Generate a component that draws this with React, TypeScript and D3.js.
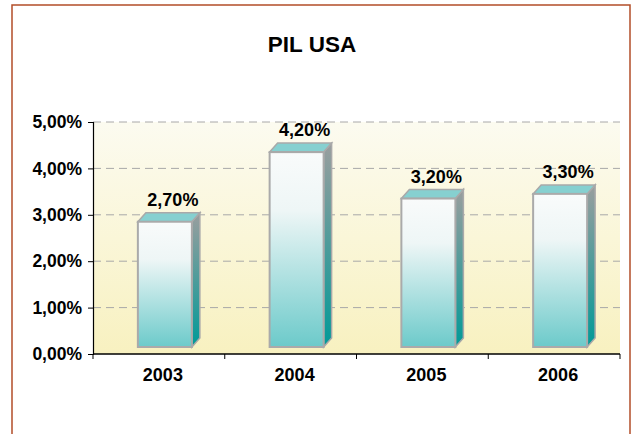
import React, { useEffect, useRef } from 'react';
import * as d3 from 'd3';

const title = 'PIL USA';
const years = ['2003', '2004', '2005', '2006'];
const growth = [2.7, 4.2, 3.2, 3.3];
const yTicks = [0, 1, 2, 3, 4, 5];

const fmt = (v: number) => v.toFixed(2).replace('.', ',') + '%';

const App = () => {
  const svgRef = useRef<SVGSVGElement>(null);

  useEffect(() => {
    if (!svgRef.current) return;
    const svg = d3.select(svgRef.current);
    svg.selectAll('*').remove();

    const W = 635;
    const H = 434;
    const left = 93;
    const right = 620;
    const top = 122;
    const bottom = 354;

    const defs = svg.append('defs');

    const bg = defs.append('linearGradient').attr('id', 'bg').attr('x1', 0).attr('y1', 0).attr('x2', 0).attr('y2', 1);
    bg.append('stop').attr('offset', '0%').attr('stop-color', '#fcfbf0');
    bg.append('stop').attr('offset', '100%').attr('stop-color', '#f8f1c0');

    const front = defs.append('linearGradient').attr('id', 'front').attr('x1', 0).attr('y1', 0).attr('x2', 0).attr('y2', 1);
    front.append('stop').attr('offset', '0%').attr('stop-color', '#f9fbfb');
    front.append('stop').attr('offset', '30%').attr('stop-color', '#eef6f6');
    front.append('stop').attr('offset', '100%').attr('stop-color', '#6ccaca');

    const side = defs.append('linearGradient').attr('id', 'side').attr('x1', 0).attr('y1', 0).attr('x2', 0).attr('y2', 1);
    side.append('stop').attr('offset', '0%').attr('stop-color', '#9a9e9e');
    side.append('stop').attr('offset', '100%').attr('stop-color', '#009a98');

    // outer frame
    svg.append('rect')
      .attr('x', 12).attr('y', 5)
      .attr('width', 618).attr('height', H + 20)
      .attr('fill', '#fff')
      .attr('stroke', '#b24e28')
      .attr('stroke-width', 1.5);

    svg.append('text')
      .attr('x', 312).attr('y', 52)
      .attr('text-anchor', 'middle')
      .style('font-family', 'Liberation Sans, Arial, sans-serif')
      .style('font-weight', 'bold')
      .style('font-size', '22.5px')
      .text(title);

    const x = d3.scaleBand().domain(years).range([left, right]);
    const y = d3.scaleLinear().domain([0, 5]).range([bottom, top]);

    svg.append('rect')
      .attr('x', left).attr('y', top)
      .attr('width', right - left).attr('height', bottom - top)
      .attr('fill', 'url(#bg)');

    // gridlines
    svg.append('g')
      .selectAll('line')
      .data(yTicks.filter((t) => t > 0))
      .enter()
      .append('line')
      .attr('x1', left).attr('x2', right)
      .attr('y1', (d) => y(d)).attr('y2', (d) => y(d))
      .attr('stroke', '#a8a8a8')
      .attr('stroke-dasharray', '8,5');

    // y axis
    const yAxis = d3.axisLeft(y).tickValues(yTicks).tickSize(5).tickPadding(6).tickFormat((d) => fmt(+d));
    const yg = svg.append('g').attr('transform', `translate(${left},0)`).call(yAxis);
    yg.select('.domain').attr('stroke', '#000').attr('stroke-width', 1.2);
    yg.selectAll('text')
      .style('font-family', 'Liberation Sans, Arial, sans-serif')
      .style('font-weight', 'bold')
      .style('font-size', '17.5px')
      .attr('fill', '#000');

    // x axis
    const xg = svg.append('g').attr('transform', `translate(0,${bottom})`);
    xg.append('line').attr('x1', left).attr('x2', right).attr('stroke', '#000').attr('stroke-width', 1.5);
    xg.selectAll('line.tk')
      .data(d3.range(years.length + 1))
      .enter()
      .append('line')
      .attr('class', 'tk')
      .attr('x1', (i) => left + i * x.bandwidth())
      .attr('x2', (i) => left + i * x.bandwidth())
      .attr('y1', 0).attr('y2', 5)
      .attr('stroke', '#000');
    xg.selectAll('text')
      .data(years)
      .enter()
      .append('text')
      .attr('x', (d) => (x(d) as number) + x.bandwidth() / 2 + 4)
      .attr('y', 27)
      .attr('text-anchor', 'middle')
      .style('font-family', 'Liberation Sans, Arial, sans-serif')
      .style('font-weight', 'bold')
      .style('font-size', '18px')
      .text((d) => d);

    // 3D bars
    const bw = 54;
    const dx = 8;
    const dy = 9;
    const lift = 7;
    const rows = years.map((yr, i) => ({ yr, v: growth[i] }));
    const bars = svg.append('g').selectAll('g').data(rows).enter().append('g');

    const fx = (d: { yr: string }) => (x(d.yr) as number) + x.bandwidth() / 2 - 21;
    const fTop = (d: { v: number }) => y(d.v) - lift;
    const fBot = bottom - lift;

    bars.append('path')
      .attr('d', (d) => {
        const x0 = fx(d) + bw;
        return `M${x0},${fTop(d)} L${x0 + dx},${fTop(d) - dy} L${x0 + dx},${fBot - dy} L${x0},${fBot} Z`;
      })
      .attr('fill', 'url(#side)')
      .attr('stroke', '#a9a9a9')
      .attr('stroke-width', 1.5);

    bars.append('path')
      .attr('d', (d) => {
        const x0 = fx(d);
        const t = fTop(d);
        return `M${x0},${t} L${x0 + dx},${t - dy} L${x0 + bw + dx},${t - dy} L${x0 + bw},${t} Z`;
      })
      .attr('fill', '#86d0d0')
      .attr('stroke', '#a9a9a9')
      .attr('stroke-width', 1.5);

    bars.append('rect')
      .attr('x', (d) => fx(d))
      .attr('y', (d) => fTop(d))
      .attr('width', bw)
      .attr('height', (d) => fBot - fTop(d))
      .attr('fill', 'url(#front)')
      .attr('stroke', '#aaaaaa')
      .attr('stroke-width', 2);

    bars.append('text')
      .attr('x', (d) => fx(d) + bw / 2 + 8)
      .attr('y', (d) => fTop(d) - dy - 7)
      .attr('text-anchor', 'middle')
      .style('font-family', 'Liberation Sans, Arial, sans-serif')
      .style('font-weight', 'bold')
      .style('font-size', '18px')
      .text((d) => fmt(d.v));

    svg.attr('width', W).attr('height', H);
  }, []);

  return (
    <div style={{ position: 'fixed', left: 0, top: 0, background: '#fff' }}>
      <svg ref={svgRef} width={635} height={434} style={{ display: 'block' }} />
    </div>
  );
};

export default App;
